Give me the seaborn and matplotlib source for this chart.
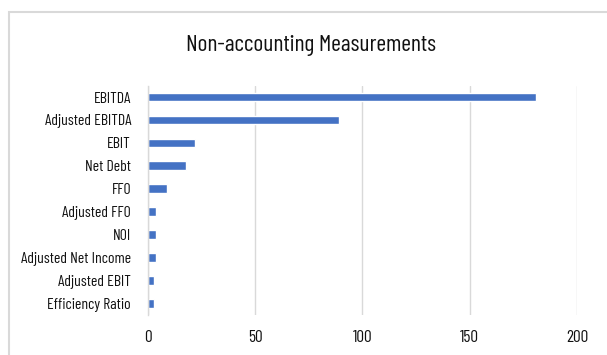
import matplotlib
matplotlib.use("Agg")
import matplotlib.pyplot as plt
import seaborn as sns
import pandas as pd
from matplotlib.patches import Rectangle

categories = ["EBITDA", "Adjusted EBITDA", "EBIT", "Net Debt", "FFO", "Adjusted FFO",
              "NOI", "Adjusted Net Income", "Adjusted EBIT", "Efficiency Ratio"]
counts = [181, 89, 22, 18, 9, 4, 4, 4, 3, 3]
x_ticks = [0, 50, 100, 150, 200]

df = pd.DataFrame({"Measure": categories, "Count": counts})

sns.set_style("white")
plt.rcParams['font.family'] = ['Barlow Condensed', 'DejaVu Sans']

fig = plt.figure(figsize=(6.07, 3.55), dpi=100)
# light chart-area border, cut off at right and bottom like the original
fig.patches.append(Rectangle((9 / 607, -0.1), 1.2, 1 - 12 / 355 + 0.1, transform=fig.transFigure,
                             fill=False, edgecolor="#d9d9d9", linewidth=1.5))

ax = fig.add_axes([0.2433, 0.1127, 0.7073, 0.6463])
sns.barplot(data=df, x="Count", y="Measure", color="#4472C4", width=0.38, ax=ax,
            saturation=1)

ax.set_xlim(0, 200)
ax.set_xticks(x_ticks)
ax.set_xlabel("")
ax.set_ylabel("")
ax.grid(axis="x", color="#d9d9d9", linewidth=1)
ax.set_axisbelow(True)
for s in ["top", "right", "bottom"]:
    ax.spines[s].set_visible(False)
ax.spines["left"].set_color("#d9d9d9")
ax.spines["left"].set_linewidth(1)
ax.tick_params(axis="both", length=0, colors="#111111")
ax.tick_params(axis="x", pad=11, labelsize=12.5)
ax.tick_params(axis="y", pad=12, labelsize=11.3)

fig.text(311 / 607, 1 - 45 / 355, "Non-accounting Measurements", ha="center", va="center",
         fontsize=17, color="#111111")

fig.savefig("out.png", dpi=100)
